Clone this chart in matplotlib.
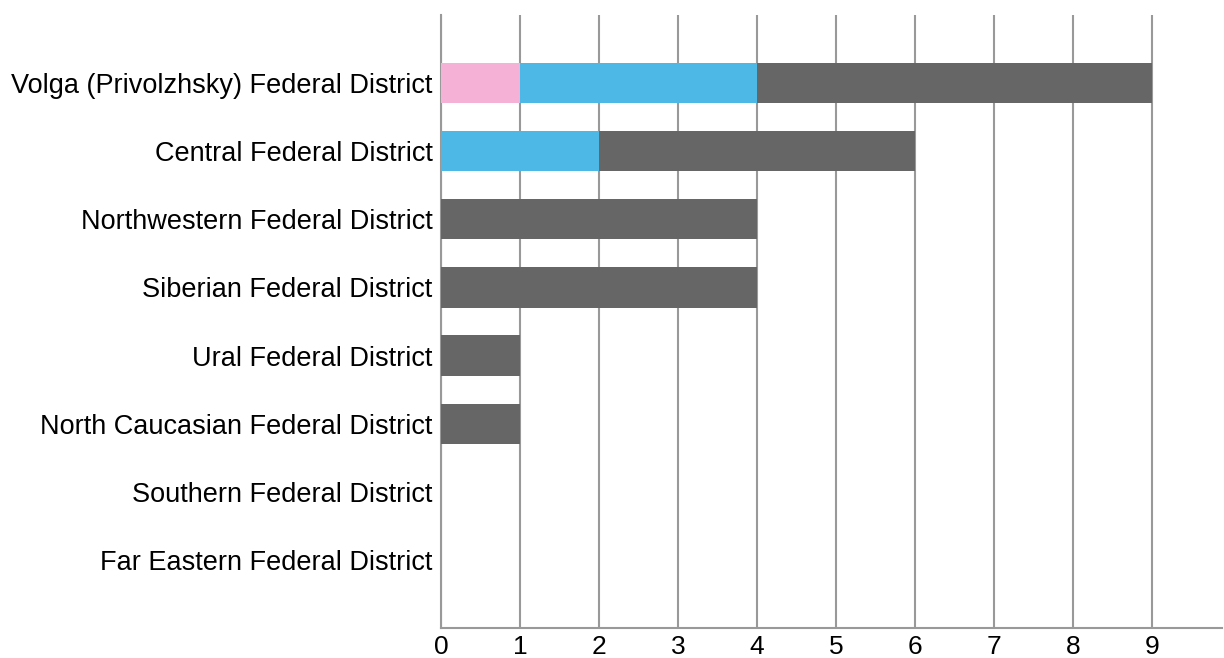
import matplotlib.pyplot as plt
import numpy as np

districts = ['Volga (Privolzhsky) Federal District', 'Central Federal District',
             'Northwestern Federal District', 'Siberian Federal District',
             'Ural Federal District', 'North Caucasian Federal District',
             'Southern Federal District', 'Far Eastern Federal District']
pink_vals = [1, 0, 0, 0, 0, 0, 0, 0]
blue_vals = [3, 2, 0, 0, 0, 0, 0, 0]
gray_vals = [5, 4, 4, 4, 1, 1, 0, 0]
x_ticks = list(range(0, 10))

fig = plt.figure(figsize=(12.24, 6.58), dpi=100)
ax = fig.add_axes([441/1224, 1 - 628/658, 781/1224, 613/658])

y = np.arange(len(districts))
pink = np.array(pink_vals)
blue = np.array(blue_vals)
gray = np.array(gray_vals)
h = 0.59
ax.barh(y, pink, height=h, color='#F6B2D6', zorder=3)
ax.barh(y, blue, left=pink, height=h, color='#4DB8E6', zorder=3)
ax.barh(y, gray, left=pink + blue, height=h, color='#666666', zorder=3)

ax.set_ylim(len(districts), -1)
ax.set_xlim(0, 9.89)
ax.set_xticks(x_ticks)
ax.set_xticklabels([str(t) for t in x_ticks], fontsize=19, family='Liberation Sans')
ax.set_yticks(y)
ax.set_yticklabels(districts, fontsize=19.5, family=['Liberation Sans', 'DejaVu Sans'])
ax.tick_params(axis='both', length=0)
ax.tick_params(axis='x', pad=5)
ax.tick_params(axis='y', pad=6)
ax.grid(axis='x', color='#999999', linewidth=1.5, zorder=0)
for s in ['top', 'right']:
    ax.spines[s].set_visible(False)
for s in ['bottom', 'left']:
    ax.spines[s].set_color('#999999')
    ax.spines[s].set_linewidth(1.5)

fig.savefig('out.png', dpi=100)
